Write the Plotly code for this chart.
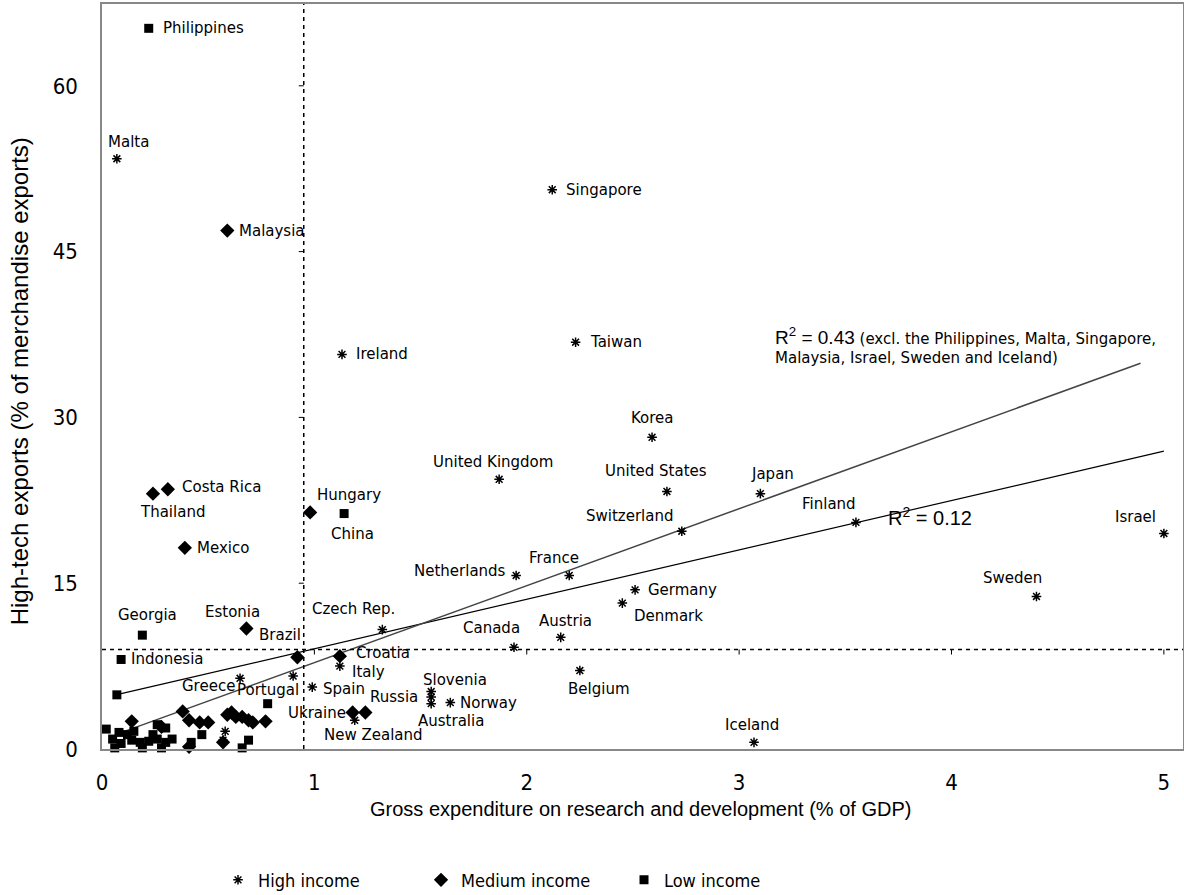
import plotly.graph_objects as go

# ---- data: GERD (% of GDP) vs high-tech exports (% of merchandise exports) ----
high_names = ["Malta", "Singapore", "Ireland", "Taiwan", "Korea", "United Kingdom",
              "United States", "Japan", "Switzerland", "Finland", "Israel", "Netherlands",
              "France", "Germany", "Denmark", "Sweden", "Czech Rep.", "Austria", "Canada",
              "Italy", "Belgium", "Greece", "Portugal", "Spain", "Slovenia", "Russia",
              "Australia", "Norway", "New Zealand", "Iceland", "", ""]
high_x = [0.07, 2.12, 1.13, 2.23, 2.59, 1.87, 2.66, 3.10, 2.73, 3.55, 5.00, 1.95,
          2.20, 2.51, 2.45, 4.40, 1.32, 2.16, 1.94, 1.12, 2.25, 0.65, 0.90, 0.99,
          1.55, 1.55, 1.55, 1.64, 1.19, 3.07, 0.58, 0.57]
high_y = [53.4, 50.6, 35.7, 36.8, 28.2, 24.4, 23.3, 23.1, 19.7, 20.5, 19.5, 15.7,
          15.7, 14.4, 13.2, 13.8, 10.8, 10.1, 9.2, 7.5, 7.1, 6.4, 6.6, 5.6,
          5.2, 4.7, 4.1, 4.2, 2.6, 0.6, 1.6, 0.8]

medium_names = ["Malaysia", "Costa Rica", "Thailand", "Hungary", "Mexico", "Estonia",
                "Brazil", "Croatia", "Ukraine", "", "", "", "", "", "", "", "", "",
                "", "", "", "", "", "", ""]
medium_x = [0.59, 0.31, 0.24, 0.98, 0.39, 0.68, 0.92, 1.12, 1.18, 1.24, 0.14, 0.38,
            0.41, 0.46, 0.50, 0.59, 0.61, 0.63, 0.66, 0.69, 0.71, 0.77, 0.57, 0.41, 0.28]
medium_y = [46.9, 23.5, 23.1, 21.4, 18.2, 10.9, 8.3, 8.4, 3.3, 3.3, 2.5, 3.4,
            2.6, 2.4, 2.4, 3.1, 3.3, 2.9, 2.9, 2.6, 2.4, 2.5, 0.6, 0.2, 2.0]

low_names = ["Philippines", "China", "Georgia", "Indonesia"] + [""] * 24
low_x = [0.22, 1.14, 0.19, 0.09, 0.07, 0.02, 0.78, 0.26, 0.30, 0.47, 0.42, 0.69,
         0.66, 0.05, 0.08, 0.12, 0.09, 0.14, 0.18, 0.22, 0.26, 0.30, 0.33, 0.06,
         0.19, 0.28, 0.15, 0.24]
low_y = [65.2, 21.3, 10.3, 8.1, 4.9, 1.8, 4.1, 2.2, 1.9, 1.3, 0.6, 0.8,
         0.1, 0.9, 1.5, 1.3, 0.5, 0.8, 0.6, 0.7, 0.9, 0.6, 0.9, 0.1,
         0.1, 0.1, 1.6, 1.3]

# linear trends: (intercept, slope, x start, x end)
trend_all = (4.6, 4.47, 0.07, 5.0)          # R² = 0.12
trend_excl = (0.86, 6.96, 0.06, 4.89)       # R² = 0.43
median_gerd = 0.95
median_exports = 9.0

x_ticks = [0, 1, 2, 3, 4, 5]
y_ticks = [0, 15, 30, 45, 60]

x_title = "Gross expenditure on research and development (% of GDP)"
y_title = "High-tech exports (% of merchandise exports)"

# ---- label placement (anchor, dx px, dy px; dy down-positive) ----
label_pos = {
    "Philippines": ("left", 12, 0), "Malta": ("center", 12, -17),
    "Malaysia": ("left", 10, 0), "Singapore": ("left", 12, 0),
    "Ireland": ("left", 12, 0), "Taiwan": ("left", 12, 0),
    "Korea": ("center", 0, -19), "United Kingdom": ("center", -6, -17),
    "United States": ("center", -11, -20), "Japan": ("center", 12, -20),
    "Switzerland": ("right", -6, -15), "Finland": ("center", -27, -18),
    "Israel": ("center", -28, -16), "Costa Rica": ("left", 12, -2),
    "Thailand": ("center", 20, 18), "Hungary": ("left", 5, -17),
    "China": ("center", 8, 20), "Mexico": ("left", 10, 0),
    "Netherlands": ("right", -8, -4), "France": ("center", -15, -17),
    "Germany": ("left", 11, 0), "Denmark": ("left", 10, 13),
    "Sweden": ("center", -24, -18), "Czech Rep.": ("center", -29, -21),
    "Estonia": ("center", -14, -17), "Georgia": ("center", 5, -20),
    "Indonesia": ("left", 8, 0), "Austria": ("center", 5, -16),
    "Canada": ("center", -23, -19), "Brazil": ("right", 6, -22),
    "Croatia": ("left", 14, -3), "Italy": ("left", 10, 6),
    "Belgium": ("center", 19, 18), "Greece": ("center", -32, 8),
    "Portugal": ("center", -25, 14), "Spain": ("left", 9, 2),
    "Russia": ("right", -11, 0), "Slovenia": ("center", 24, -12),
    "Australia": ("center", 20, 17), "Norway": ("left", 8, 0),
    "Ukraine": ("right", -5, 0), "New Zealand": ("center", 19, 15),
    "Iceland": ("center", -2, -17),
}

LABEL_FONT = dict(family="DejaVu Sans, Verdana, sans-serif", size=15, color="#000")
NARROW = "Liberation Sans Narrow, DejaVu Sans Condensed, Arial Narrow, Liberation Sans, sans-serif"
TITLE = "Liberation Sans, Arial, sans-serif"

fig = go.Figure()

# trend lines
for (b0, b1, xa, xb), col, w in [(trend_all, "#000000", 1.2), (trend_excl, "#444444", 1.5)]:
    fig.add_trace(go.Scatter(x=[xa, xb], y=[b0 + b1 * xa, b0 + b1 * xb], mode="lines",
                             line=dict(color=col, width=w), showlegend=False,
                             hoverinfo="skip"))

groups = [
    ("High income", high_names, high_x, high_y,
     dict(symbol="asterisk-open", size=8, color="#000", line=dict(color="#000", width=1.5))),
    ("Medium income", medium_names, medium_x, medium_y,
     dict(symbol="diamond", size=11, color="#000", line=dict(width=0))),
    ("Low income", low_names, low_x, low_y,
     dict(symbol="square", size=9, color="#000", line=dict(width=0))),
]
for name, names, xs, ys, mk in groups:
    fig.add_trace(go.Scatter(x=xs, y=ys, mode="markers", name=name, marker=mk,
                             text=names, cliponaxis=False,
                             hovertemplate="%{text}<br>%{x}, %{y}<extra></extra>"))

annotations = []
for _, names, xs, ys, _ in groups:
    for n, xv, yv in zip(names, xs, ys):
        if not n:
            continue
        anchor, dx, dy = label_pos[n]
        annotations.append(dict(x=xv, y=yv, text=n, showarrow=False, xanchor=anchor,
                                yanchor="middle", xshift=dx, yshift=-dy, font=LABEL_FONT))

annotations.append(dict(
    x=3.16, y=38.6, xanchor="left", yanchor="top", showarrow=False, align="left",
    text="<span style='font-family:Liberation Sans, Arial; font-size:19px'>R<sup>2</sup> = 0.43</span>"
         " (excl. the Philippines, Malta, Singapore,<br>"
         "Malaysia, Israel, Sweden and Iceland)",
    font=dict(family="DejaVu Sans, sans-serif", size=15, color="#000")))
annotations.append(dict(
    x=3.69, y=21.0, xanchor="left", yanchor="middle", showarrow=False,
    text="R<sup>2</sup> = 0.12",
    font=dict(family=TITLE, size=20, color="#000")))

# axis titles
annotations.append(dict(xref="paper", yref="paper", x=0.498, y=-0.0805, xanchor="center",
                        yanchor="middle", showarrow=False, text=x_title,
                        font=dict(family=TITLE, size=20, color="#000")))
annotations.append(dict(xref="paper", yref="paper", x=-0.0755, y=0.494, xanchor="center",
                        yanchor="middle", showarrow=False, text=y_title, textangle=-90,
                        font=dict(family=TITLE, size=24, color="#000")))

shapes = [
    dict(type="line", xref="x", yref="paper", x0=median_gerd, x1=median_gerd, y0=0, y1=1,
         line=dict(color="#000", width=1.5, dash="4px,4px")),
    dict(type="line", xref="paper", yref="y", x0=0, x1=1, y0=median_exports, y1=median_exports,
         line=dict(color="#000", width=1.5, dash="4px,4px")),
]
# small tick marks on the crossing lines
for t in y_ticks[1:]:
    shapes.append(dict(type="line", xref="x", yref="y", xsizemode="pixel", xanchor=median_gerd,
                       x0=-5, x1=0, y0=t, y1=t, line=dict(color="#000", width=1)))
for t in x_ticks[1:]:
    shapes.append(dict(type="line", xref="x", yref="y", ysizemode="pixel", yanchor=median_exports,
                       x0=t, x1=t, y0=-5, y1=0, line=dict(color="#000", width=1)))

fig.update_layout(
    width=1184, height=895,
    margin=dict(l=102, r=1, t=4, b=146, autoexpand=False),
    paper_bgcolor="white", plot_bgcolor="white",
    showlegend=True,
    legend=dict(orientation="h", x=0.389, xanchor="center", y=-0.176, yanchor="middle",
                font=dict(family=NARROW, size=18, color="#000"), entrywidth=158,
                itemwidth=30, bgcolor="rgba(0,0,0,0)"),
    xaxis=dict(range=[0, 5.09], tickvals=x_ticks, showgrid=False, zeroline=False,
               showline=True, linecolor="#888", linewidth=1.5, mirror=True, ticks="",
               ticklabelstandoff=13, tickfont=dict(family=NARROW, size=22, color="#000"),
               automargin=False),
    yaxis=dict(range=[0, 67.4], tickvals=y_ticks, showgrid=False, zeroline=False,
               showline=True, linecolor="#888", linewidth=1.5, mirror=True, ticks="",
               ticklabelstandoff=18, tickfont=dict(family=NARROW, size=22, color="#000"),
               automargin=False),
    annotations=annotations,
    shapes=shapes,
)

fig.write_html("out.html")
